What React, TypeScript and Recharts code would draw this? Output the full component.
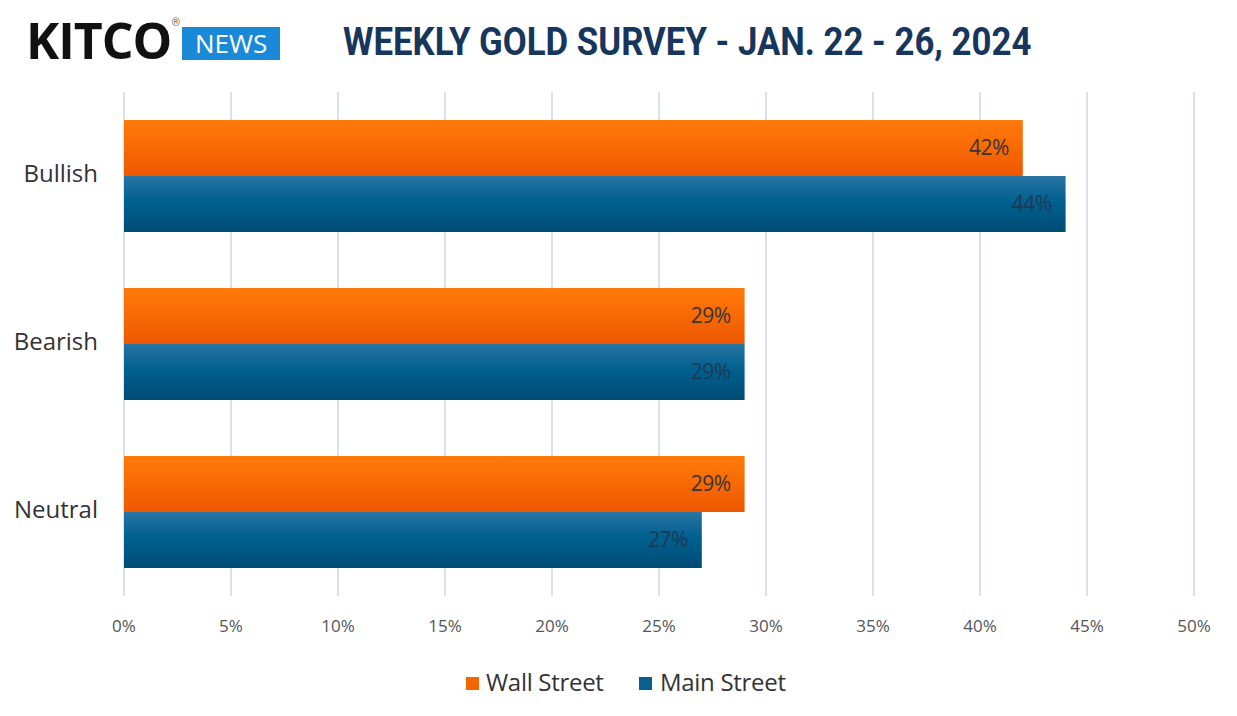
import React from 'react';
import { BarChart, Bar, XAxis, YAxis, CartesianGrid, LabelList } from 'recharts';

const categories = ['Bullish', 'Bearish', 'Neutral'];
const wallStreet = [42, 29, 29];
const mainStreet = [44, 29, 27];
const xTicks = [0, 5, 10, 15, 20, 25, 30, 35, 40, 45, 50];

const data = categories.map((name, i) => ({
  name,
  wall: wallStreet[i],
  main: mainStreet[i],
}));

const FONT = 'Roboto, "Open Sans", sans-serif';
const BODY = '"Open Sans", Roboto, sans-serif';

const Logo = () => (
  <div style={{ position: 'absolute', left: 26, top: 15, display: 'flex', alignItems: 'flex-start' }}>
    <span style={{ fontFamily: BODY, fontWeight: 700, fontSize: 50, lineHeight: '50px', color: '#111', letterSpacing: -1 }}>
      KITCO
    </span>
    <span style={{ fontSize: 11, color: '#666', marginTop: 1, marginLeft: 0 }}>®</span>
    <div
      style={{
        marginLeft: 2,
        marginTop: 12,
        width: 98,
        height: 33,
        background: '#1a8ad8',
        color: '#fff',
        fontFamily: BODY,
        fontSize: 26,
        lineHeight: '33px',
        textAlign: 'center',
      }}
    >
      NEWS
    </div>
  </div>
);

export default function App() {
  return (
    <div style={{ position: 'relative', width: 1237, height: 716, background: '#fff', margin: -8, fontFamily: FONT }}>
      <Logo />
      <div
        style={{
          position: 'absolute',
          left: 343,
          top: 19,
          fontFamily: FONT,
          fontWeight: 700,
          fontSize: 38,
          lineHeight: '46px',
          color: '#17365d',
          transform: 'scaleX(0.915)',
          transformOrigin: 'left',
          whiteSpace: 'nowrap',
        }}
      >
        WEEKLY GOLD SURVEY - JAN. 22 - 26, 2024
      </div>
      <div style={{ position: 'absolute', left: 0, top: 0 }}>
        <BarChart
          width={1237}
          height={716}
          data={data}
          layout="vertical"
          margin={{ top: 92, right: 43, bottom: 90, left: 0 }}
          barCategoryGap={28}
          barGap={0}
        >
          <defs>
            <linearGradient id="gOrange" x1="0" y1="0" x2="0" y2="1">
              <stop offset="0%" stopColor="#ff7a0a" />
              <stop offset="100%" stopColor="#ef5800" />
            </linearGradient>
            <linearGradient id="gBlue" x1="0" y1="0" x2="0" y2="1">
              <stop offset="0%" stopColor="#2a74a3" />
              <stop offset="45%" stopColor="#00608f" />
              <stop offset="100%" stopColor="#004c75" />
            </linearGradient>
          </defs>
          <CartesianGrid horizontal={false} stroke="#c9d9e8" strokeWidth={1.5} />
          <XAxis
            type="number"
            domain={[0, 50]}
            ticks={xTicks}
            tickFormatter={(v) => `${v}%`}
            axisLine={false}
            tickLine={false}
            tickMargin={18}
            height={30}
            tick={{ fill: '#555', fontSize: 17, fontFamily: BODY }}
            interval={0}
          />
          <YAxis
            type="category"
            dataKey="name"
            width={124}
            axisLine={false}
            tickLine={false}
            tickMargin={20}
            tick={{ fill: '#333', fontSize: 24, fontFamily: BODY, dy: -3 }}
          />
          <Bar dataKey="wall" fill="url(#gOrange)" isAnimationActive={false}>
            <LabelList
              dataKey="wall"
              position="insideRight"
              offset={14}
              formatter={(v: number) => `${v}%`}
              style={{ fill: '#3a3330', fontSize: 21, fontFamily: BODY, letterSpacing: -0.5 }}
            />
          </Bar>
          <Bar dataKey="main" fill="url(#gBlue)" isAnimationActive={false}>
            <LabelList
              dataKey="main"
              position="insideRight"
              offset={14}
              formatter={(v: number) => `${v}%`}
              style={{ fill: '#1c3a58', fontSize: 21, fontFamily: BODY, letterSpacing: -0.5 }}
            />
          </Bar>
        </BarChart>
      </div>
      <div style={{ position: 'absolute', left: 466, top: 677, width: 13, height: 13, background: '#f46500' }} />
      <div style={{ position: 'absolute', left: 486, top: 667, fontFamily: BODY, fontSize: 24, lineHeight: '30px', color: '#333', letterSpacing: -0.3 }}>
        Wall Street
      </div>
      <div style={{ position: 'absolute', left: 639, top: 677, width: 13, height: 13, background: '#0a5f8e' }} />
      <div style={{ position: 'absolute', left: 660, top: 667, fontFamily: BODY, fontSize: 24, lineHeight: '30px', color: '#333', letterSpacing: -0.3 }}>
        Main Street
      </div>
    </div>
  );
}
